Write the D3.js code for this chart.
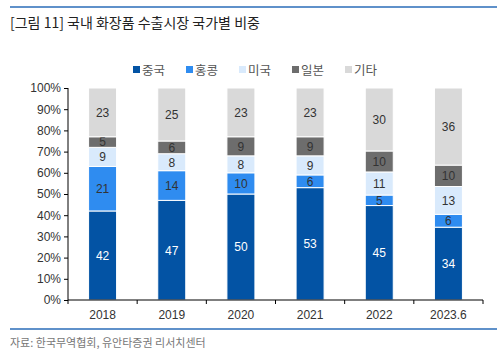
<!DOCTYPE html>
<html>
<head>
<meta charset="utf-8">
<script src="https://cdn.jsdelivr.net/npm/d3@7"></script>
<style>
  body { margin: 0; background: #fff; }
  text { font-family: "Liberation Sans", Arial, "Noto Sans CJK KR", sans-serif; }
</style>
</head>
<body>
<div id="chart"></div>
<script>
// data (share of cosmetics exports, %)
let years = ["2018", "2019", "2020", "2021", "2022", "2023.6"];
let seriesNames = ["중국", "홍콩", "미국", "일본", "기타"];
let china = [42, 47, 50, 53, 45, 34];
let hongkong = [21, 14, 10, 6, 5, 6];
let usa = [9, 8, 8, 9, 11, 13];
let japan = [5, 6, 9, 9, 10, 10];
let others = [23, 25, 23, 23, 30, 36];
let yTicks = [0, 0.1, 0.2, 0.3, 0.4, 0.5, 0.6, 0.7, 0.8, 0.9, 1];

let colors = ["#0353a4", "#2f8cf0", "#d9eafc", "#6d6d6d", "#d9d9d9"];
let labelColors = ["#fff", "#333", "#333", "#333", "#333"];

let rows = years.map(function (y, i) {
  return { year: y, "중국": china[i], "홍콩": hongkong[i], "미국": usa[i], "일본": japan[i], "기타": others[i] };
});

let width = 500, height = 362;
let margin = { left: 68, right: 17, top: 88, bottom: 62 };

let svg = d3.select("#chart").append("svg")
  .attr("width", width)
  .attr("height", height);

// header rule + title
svg.append("line")
  .attr("x1", 10).attr("x2", 497).attr("y1", 7).attr("y2", 7)
  .style("stroke", "#2a6cb8").style("stroke-width", 1.5);

svg.append("text")
  .attr("x", 10).attr("y", 28)
  .style("font-size", "14px")
  .style("font-family", "'Noto Sans CJK KR', sans-serif")
  .style("fill", "#222")
  .text("[그림 11] 국내 화장품 수출시장 국가별 비중");

let x = d3.scaleBand()
  .domain(years)
  .range([margin.left, width - margin.right]);

let y = d3.scaleLinear()
  .domain([0, 1])
  .range([height - margin.bottom, margin.top]);

// bars are drawn as shares of 100% (rounded values don't always add up)
let stack = d3.stack().keys(seriesNames).offset(d3.stackOffsetExpand);
let layers = stack(rows);

let barW = 28;

let groups = svg.selectAll("g.layer")
  .data(layers)
  .enter()
  .append("g")
  .attr("class", "layer")
  .style("fill", function (d, i) { return colors[i]; });

groups.selectAll("rect")
  .data(function (d) { return d; })
  .enter()
  .append("rect")
  .attr("x", function (d) { return x(d.data.year) + x.bandwidth() / 2 - barW / 2; })
  .attr("y", function (d) { return y(d[1]); })
  .attr("width", barW)
  .attr("height", function (d) { return y(d[0]) - y(d[1]); })
  .style("stroke", "#fff")
  .style("stroke-width", 1);

// segment labels
groups.selectAll("text")
  .data(function (d, i) { return d.map(function (p) { return { p: p, i: i, key: d.key }; }); })
  .enter()
  .append("text")
  .attr("x", function (d) { return x(d.p.data.year) + x.bandwidth() / 2; })
  .attr("y", function (d) { return (y(d.p[0]) + y(d.p[1])) / 2; })
  .attr("dy", "0.36em")
  .attr("text-anchor", "middle")
  .style("font-size", "12px")
  .style("fill", function (d) { return labelColors[d.i]; })
  .text(function (d) { return d.p.data[d.key]; });

// y axis
let yAxis = svg.append("g")
  .attr("transform", "translate(" + margin.left + ",0)")
  .call(d3.axisLeft(y).tickValues(yTicks).tickSize(4).tickFormat(d3.format(".0%")));

// x axis
let xAxis = svg.append("g")
  .attr("transform", "translate(0," + (height - margin.bottom) + ")")
  .call(d3.axisBottom(x).tickSize(0).tickPadding(10));

xAxis.selectAll(".tick")
  .append("line")
  .attr("x1", -x.bandwidth() / 2).attr("x2", -x.bandwidth() / 2)
  .attr("y1", 0).attr("y2", 4)
  .style("stroke", "#000");

xAxis.append("line")
  .attr("x1", width - margin.right).attr("x2", width - margin.right)
  .attr("y1", 0).attr("y2", 4)
  .style("stroke", "#000");

svg.selectAll(".domain").style("stroke", "#000");
yAxis.selectAll(".tick line").style("stroke", "#000");
yAxis.select(".domain").attr("d", "M0," + margin.top + "V" + (height - margin.bottom));
xAxis.select(".domain").attr("d", "M" + margin.left + ",0H" + (width - margin.right));
svg.selectAll(".tick text")
  .style("font-size", "12px")
  .style("fill", "#333")
  .style("font-family", "'Liberation Sans', Arial, sans-serif");

// legend
let legend = svg.append("g").attr("transform", "translate(133,70)");
let lx = 0;
seriesNames.forEach(function (name, i) {
  let g = legend.append("g").attr("transform", "translate(" + lx + ",0)");
  g.append("rect")
    .attr("x", 0).attr("y", -4).attr("width", 7).attr("height", 7)
    .style("fill", colors[i]);
  g.append("text")
    .attr("x", 9).attr("y", 0).attr("dy", "0.36em")
    .style("font-size", "12.5px")
    .style("font-family", "'Noto Sans CJK KR', sans-serif")
    .style("fill", "#555")
    .text(name);
  lx += 53;
});

// footer rule + source
svg.append("line")
  .attr("x1", 10).attr("x2", 497).attr("y1", 329).attr("y2", 329)
  .style("stroke", "#2a6cb8").style("stroke-width", 1.5);

svg.append("text")
  .attr("x", 10).attr("y", 347)
  .style("font-size", "11px")
  .style("font-family", "'Noto Sans CJK KR', sans-serif")
  .style("fill", "#777")
  .text("자료: 한국무역협회, 유안타증권 리서치센터");
</script>
</body>
</html>
